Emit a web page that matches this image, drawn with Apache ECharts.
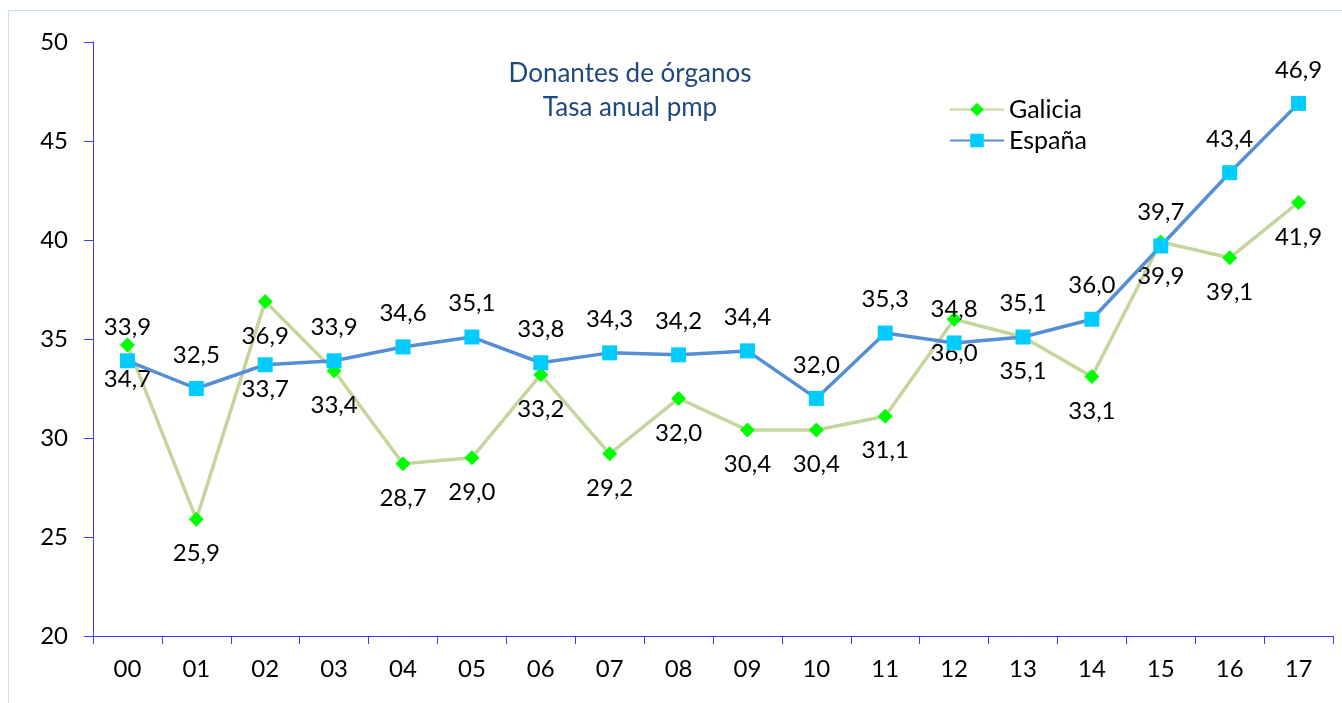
<!DOCTYPE html>
<html>
<head>
<meta charset="utf-8">
<script src="https://cdn.jsdelivr.net/npm/echarts@6/dist/echarts.min.js"></script>
<style>
  html, body { margin: 0; padding: 0; background: #fff; }
  #chart { width: 1342px; height: 703px; }
</style>
</head>
<body>
<div id="chart"></div>
<script>
const years = ['00','01','02','03','04','05','06','07','08','09','10','11','12','13','14','15','16','17']
const galicia = [34.7, 25.9, 36.9, 33.4, 28.7, 29.0, 33.2, 29.2, 32.0, 30.4, 30.4, 31.1, 36.0, 35.1, 33.1, 39.9, 39.1, 41.9]
const espana = [33.9, 32.5, 33.7, 33.9, 34.6, 35.1, 33.8, 34.3, 34.2, 34.4, 32.0, 35.3, 34.8, 35.1, 36.0, 39.7, 43.4, 46.9]

const font = 'Lato, "Open Sans", sans-serif'
const axisBlue = '#3a3aff'
const fmt = p => p.value.toFixed(1).replace('.', ',')

// el punto 02 de España lleva la etiqueta debajo, como en el original
const espanaData = espana.map((v, i) => i === 2
  ? {value: v, label: {position: 'bottom', distance: 5}}
  : v)

const chart = echarts.init(document.getElementById('chart'), null, {renderer: 'canvas'})

chart.setOption({
  animation: false,
  textStyle: {fontFamily: font},
  title: {
    text: 'Donantes de órganos\nTasa anual pmp',
    left: 625,
    top: 52,
    textAlign: 'center',
    textStyle: {color: '#1f497d', fontSize: 26, fontWeight: 'normal', lineHeight: 34, fontFamily: font}
  },
  legend: {
    orient: 'vertical',
    left: 944,
    top: 92,
    itemWidth: 54,
    itemHeight: 17,
    itemGap: 6,
    textStyle: {fontSize: 25, color: '#000', fontFamily: font},
    data: ['Galicia', 'España']
  },
  graphic: [{
    type: 'rect',
    shape: {x: 8.5, y: 10.5, width: 1400, height: 800},
    style: {fill: 'none', stroke: '#c6dcf2', lineWidth: 1},
    silent: true
  }],
  grid: {left: 93, right: 9, top: 42, bottom: 67},
  xAxis: {
    type: 'category',
    data: years,
    boundaryGap: true,
    axisLine: {lineStyle: {color: axisBlue, width: 1}},
    axisTick: {show: true, length: 8, alignWithLabel: false, lineStyle: {color: axisBlue}},
    axisLabel: {color: '#000', fontSize: 24, margin: 21, fontFamily: font}
  },
  yAxis: {
    type: 'value',
    min: 20,
    max: 50,
    interval: 5,
    splitLine: {show: false},
    axisLine: {show: true, lineStyle: {color: axisBlue, width: 1}},
    axisTick: {show: true, length: 9, lineStyle: {color: axisBlue}},
    axisLabel: {color: '#000', fontSize: 24, margin: 25, fontFamily: font}
  },
  series: [
    {
      name: 'Galicia',
      type: 'line',
      data: galicia,
      symbol: 'diamond',
      symbolSize: 15,
      z: 2,
      lineStyle: {color: '#c3d69b', width: 3.5},
      itemStyle: {color: '#00ff00'},
      labelLayout: {hideOverlap: false},
      label: {show: true, position: 'bottom', distance: 15, formatter: fmt, color: '#000', fontSize: 24, fontFamily: font}
    },
    {
      name: 'España',
      type: 'line',
      data: espanaData,
      symbol: 'rect',
      symbolSize: 15,
      z: 3,
      lineStyle: {color: '#558ed5', width: 3.5},
      itemStyle: {color: '#00ccff'},
      labelLayout: {hideOverlap: false},
      label: {show: true, position: 'top', distance: 14, formatter: fmt, color: '#000', fontSize: 24, fontFamily: font}
    }
  ]
})
</script>
</body>
</html>
